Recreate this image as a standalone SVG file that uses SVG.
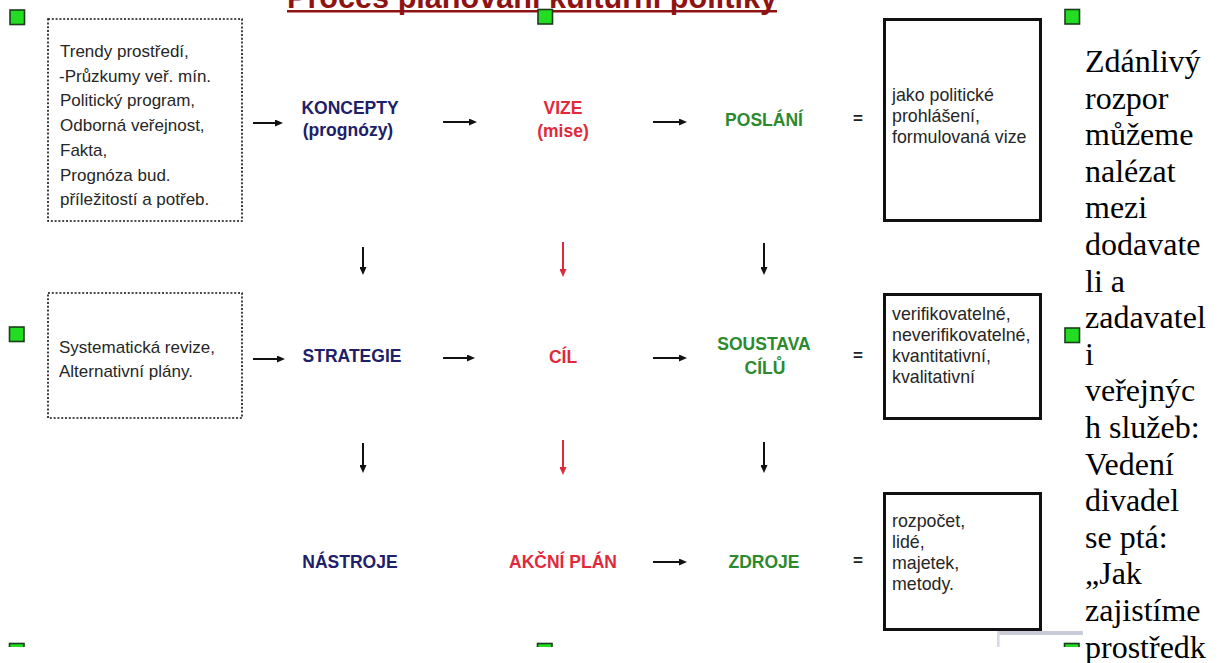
<svg xmlns="http://www.w3.org/2000/svg" width="1219" height="663" viewBox="0 0 1219 663">
  <defs>
    <style>
      .title { font-family: "Liberation Sans", Arial, sans-serif; font-weight: bold; font-size: 30.5px; fill: #8e1414; }
      .box-text { font-family: "Liberation Sans", Arial, sans-serif; font-size: 17px; fill: #262626; }
      .def-text { font-family: "Liberation Sans", Arial, sans-serif; font-size: 17.8px; fill: #262626; }
      .lbl { font-family: "Liberation Sans", Arial, sans-serif; font-weight: bold; font-size: 17.5px; text-anchor: middle; }
      .navy { fill: #202068; }
      .red { fill: #e02a3c; }
      .green { fill: #2b8a2e; }
      .eq { font-family: "Liberation Sans", Arial, sans-serif; font-weight: bold; font-size: 17px; fill: #222; text-anchor: middle; }
      .dotted { fill: #fff; stroke: #111; stroke-width: 1.6; stroke-dasharray: 2 1.8; }
      .solid { fill: #fff; stroke: #111; stroke-width: 3; }
      .conn { stroke: #111; stroke-width: 2; fill: none; marker-end: url(#head); }
      .conn-red { stroke: #e02a3c; stroke-width: 2; fill: none; marker-end: url(#head-red); }
      .handle { fill: #22dd22; stroke: #1c3d1c; stroke-width: 1.6; }
      .body { font-family: "Liberation Serif", "Times New Roman", serif; font-size: 32px; fill: #000; }
    </style>
    <marker id="head" markerUnits="userSpaceOnUse" markerWidth="8" markerHeight="7" refX="2" refY="3.5" orient="auto">
      <path d="M0,0 L8,3.5 L0,7 Z" fill="#111"/>
    </marker>
    <marker id="head-red" markerUnits="userSpaceOnUse" markerWidth="8" markerHeight="7" refX="2" refY="3.5" orient="auto">
      <path d="M0,0 L8,3.5 L0,7 Z" fill="#e02a3c"/>
    </marker>
    <clipPath id="frame-clip">
      <rect x="0" y="0" width="1219" height="647"/>
    </clipPath>
  </defs>

  <rect width="1219" height="663" fill="#fff"/>

  <!-- heading, underlined -->
  <g id="heading">
    <text class="title" x="287" y="8" textLength="490" lengthAdjust="spacingAndGlyphs">Proces plánování kulturní politiky</text>
    <rect x="287" y="10" width="490" height="2.5" fill="#8e1414"/>
  </g>

  <!-- frame edge below the lower right box -->
  <g id="frame-edge">
    <rect x="997" y="631" width="86" height="4" fill="#c9cbd8"/>
    <rect x="997" y="631" width="2.5" height="16" fill="#d6d8e2"/>
  </g>

  <!-- input box: environment -->
  <g id="n-inputs">
    <rect class="dotted" x="48" y="19" width="194" height="202"/>
    <text class="box-text" x="60" y="57">Trendy prostředí,</text>
    <text class="box-text" x="59" y="81.7">-Průzkumy veř. mín.</text>
    <text class="box-text" x="60" y="106.4">Politický program,</text>
    <text class="box-text" x="60" y="131.1">Odborná veřejnost,</text>
    <text class="box-text" x="60" y="155.8">Fakta,</text>
    <text class="box-text" x="60" y="180.5">Prognóza bud.</text>
    <text class="box-text" x="60" y="205.2">příležitostí a potřeb.</text>
  </g>

  <!-- input box: revision -->
  <g id="n-revision">
    <rect class="dotted" x="48" y="293" width="194" height="125"/>
    <text class="box-text" x="59" y="353">Systematická revize,</text>
    <text class="box-text" x="59" y="377">Alternativní plány.</text>
  </g>

  <!-- column 1 -->
  <g id="n-koncepty">
    <text class="lbl navy" x="350" y="114">KONCEPTY</text>
    <text class="lbl navy" x="348" y="136">(prognózy)</text>
  </g>
  <g id="n-strategie">
    <text class="lbl navy" x="352" y="362">STRATEGIE</text>
  </g>
  <g id="n-nastroje">
    <text class="lbl navy" x="350" y="568">NÁSTROJE</text>
  </g>

  <!-- column 2 -->
  <g id="n-vize">
    <text class="lbl red" x="563" y="114">VIZE</text>
    <text class="lbl red" x="563" y="137">(mise)</text>
  </g>
  <g id="n-cil">
    <text class="lbl red" x="563" y="363">CÍL</text>
  </g>
  <g id="n-akcni-plan">
    <text class="lbl red" x="563" y="568">AKČNÍ PLÁN</text>
  </g>

  <!-- column 3 -->
  <g id="n-poslani">
    <text class="lbl green" x="764" y="126">POSLÁNÍ</text>
  </g>
  <g id="n-soustava">
    <text class="lbl green" x="764" y="350">SOUSTAVA</text>
    <text class="lbl green" x="765" y="374">CÍLŮ</text>
  </g>
  <g id="n-zdroje">
    <text class="lbl green" x="764" y="568">ZDROJE</text>
  </g>

  <!-- equals signs -->
  <g id="equals">
    <text class="eq" x="858" y="124">=</text>
    <text class="eq" x="858" y="361">=</text>
    <text class="eq" x="858" y="566">=</text>
  </g>

  <!-- definition boxes -->
  <g id="n-def-poslani">
    <rect class="solid" x="884.5" y="19.5" width="156" height="201"/>
    <text class="def-text" x="892" y="101">jako politické</text>
    <text class="def-text" x="892" y="122">prohlášení,</text>
    <text class="def-text" x="892" y="143">formulovaná vize</text>
  </g>
  <g id="n-def-cile">
    <rect class="solid" x="884.5" y="294.5" width="156" height="124"/>
    <text class="def-text" x="892" y="320">verifikovatelné,</text>
    <text class="def-text" x="892" y="341">neverifikovatelné,</text>
    <text class="def-text" x="892" y="362">kvantitativní,</text>
    <text class="def-text" x="892" y="383">kvalitativní</text>
  </g>
  <g id="n-def-zdroje">
    <rect class="solid" x="884.5" y="493.5" width="156" height="136"/>
    <text class="def-text" x="892" y="527">rozpočet,</text>
    <text class="def-text" x="892" y="548">lidé,</text>
    <text class="def-text" x="892" y="569">majetek,</text>
    <text class="def-text" x="892" y="590">metody.</text>
  </g>

  <!-- connectors -->
  <g id="connectors">
    <line class="conn" x1="253" y1="123" x2="277" y2="123"/>
    <line class="conn" x1="443" y1="122" x2="471" y2="122"/>
    <line class="conn" x1="653" y1="122" x2="681" y2="122"/>
    <line class="conn" x1="253" y1="359" x2="279" y2="359"/>
    <line class="conn" x1="443" y1="358" x2="469" y2="358"/>
    <line class="conn" x1="653" y1="358" x2="681" y2="358"/>
    <line class="conn" x1="653" y1="562" x2="681" y2="562"/>
    <line class="conn" x1="363" y1="247" x2="363" y2="269"/>
    <line class="conn" x1="363" y1="443" x2="363" y2="467"/>
    <line class="conn-red" x1="563" y1="242" x2="563" y2="271"/>
    <line class="conn-red" x1="563" y1="440" x2="563" y2="469"/>
    <line class="conn" x1="764" y1="243" x2="764" y2="269"/>
    <line class="conn" x1="764" y1="442" x2="764" y2="467"/>
  </g>

  <!-- selection handles -->
  <g id="handles" clip-path="url(#frame-clip)">
    <rect class="handle" x="10" y="10" width="14.5" height="14.5"/>
    <rect class="handle" x="538" y="9.5" width="14.5" height="14.5"/>
    <rect class="handle" x="1065" y="9.5" width="14.5" height="14.5"/>
    <rect class="handle" x="9.5" y="327" width="14.5" height="14.5"/>
    <rect class="handle" x="1065" y="328" width="14.5" height="14.5"/>
    <rect class="handle" x="9.5" y="643.5" width="14.5" height="14.5"/>
    <rect class="handle" x="537.5" y="643.5" width="14.5" height="14.5"/>
    <rect class="handle" x="1064.5" y="643.5" width="14.5" height="14.5"/>
  </g>

  <!-- running body text beside the figure -->
  <g id="body-text">
    <text class="body" x="1085" y="72">Zdánlivý</text>
    <text class="body" x="1085" y="108.6">rozpor</text>
    <text class="body" x="1085" y="145.2">můžeme</text>
    <text class="body" x="1085" y="181.8">nalézat</text>
    <text class="body" x="1085" y="218.4">mezi</text>
    <text class="body" x="1085" y="255">dodavate</text>
    <text class="body" x="1085" y="291.6">li a</text>
    <text class="body" x="1085" y="328.2">zadavatel</text>
    <text class="body" x="1085" y="364.8">i</text>
    <text class="body" x="1085" y="401.4">veřejnýc</text>
    <text class="body" x="1085" y="438">h služeb:</text>
    <text class="body" x="1085" y="474.6">Vedení</text>
    <text class="body" x="1085" y="511.2">divadel</text>
    <text class="body" x="1085" y="547.8">se ptá:</text>
    <text class="body" x="1085" y="584.4">„Jak</text>
    <text class="body" x="1085" y="621">zajistíme</text>
    <text class="body" x="1085" y="657.6">prostředk</text>
  </g>
</svg>
